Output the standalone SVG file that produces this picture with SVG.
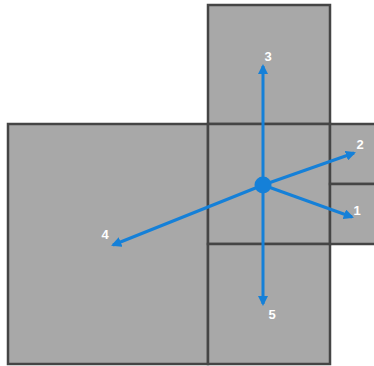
<svg xmlns="http://www.w3.org/2000/svg" width="374" height="366" viewBox="0 0 374 366">
<style>
.room{fill:#a8a8a8;stroke:#454545;stroke-width:2.5}
.arr{stroke:#1580d8;stroke-width:3;fill:none;marker-end:url(#ah)}
.lbl{font-family:"Liberation Sans",Arial,sans-serif;font-size:13px;font-weight:bold;fill:#ffffff;text-anchor:middle}
</style>
<defs>
<marker id="ah" viewBox="0 0 10 10" refX="8" refY="5" markerWidth="3.4" markerHeight="3.4" orient="auto" markerUnits="strokeWidth">
<path d="M0,0 L10,5 L0,10 Z" fill="#1580d8"/>
</marker>
</defs>
<rect width="374" height="366" fill="#ffffff"/>
<g id="room-top"><rect class="room" x="208" y="5" width="122" height="119"/></g>
<g id="room-left"><rect class="room" x="8" y="124" width="200" height="240"/></g>
<g id="room-center"><rect class="room" x="208" y="124" width="122" height="120"/></g>
<g id="room-bottom"><rect class="room" x="208" y="244" width="122" height="120"/></g>
<g id="room-right-top"><rect class="room" x="330" y="124" width="50" height="60"/></g>
<g id="room-right-bottom"><rect class="room" x="330" y="184" width="50" height="60"/></g>
<g id="connectors">
<line class="arr" x1="263" y1="185" x2="263" y2="66"/>
<line class="arr" x1="263" y1="185" x2="354" y2="153"/>
<line class="arr" x1="263" y1="185" x2="352" y2="217"/>
<line class="arr" x1="263" y1="185" x2="113" y2="245"/>
<line class="arr" x1="263" y1="185" x2="263" y2="304"/>
</g>
<g id="center-point"><circle cx="263" cy="185" r="8.5" fill="#1580d8"/></g>
<g id="labels">
<text class="lbl" x="268" y="61">3</text>
<text class="lbl" x="360" y="149">2</text>
<text class="lbl" x="357" y="215">1</text>
<text class="lbl" x="105" y="239">4</text>
<text class="lbl" x="272" y="319">5</text>
</g>
</svg>
